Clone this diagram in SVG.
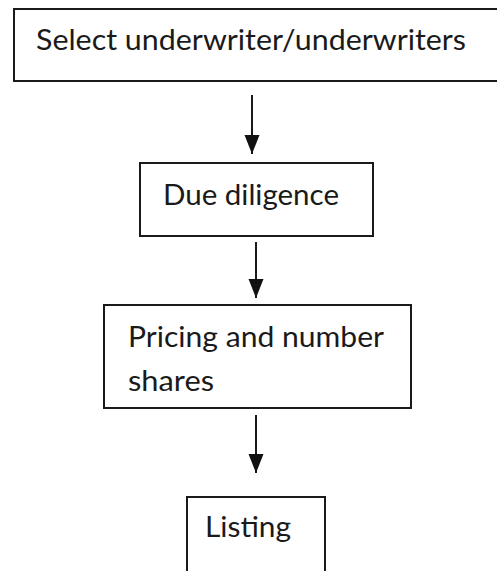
<svg xmlns="http://www.w3.org/2000/svg" width="497" height="571" viewBox="0 0 497 571">
<style>
.box{fill:#fff;stroke:#1a1a1a;stroke-width:2}
.t{font-family:Lato,"Open Sans","Liberation Sans",sans-serif;font-size:28px;fill:#1a1a1a}
.c{stroke:#1a1a1a;stroke-width:2;fill:none}
</style>
<defs>
<marker id="ah" markerWidth="19" markerHeight="16" refX="19" refY="8" orient="auto" markerUnits="userSpaceOnUse" viewBox="0 0 19 16">
<path d="M0,0.5 L19,8 L0,15.5 Z" fill="#111"/>
</marker>
</defs>
<rect width="497" height="571" fill="#fff"/>
<g id="n1">
<path class="box" d="M505,9 H14 V81 H505"/>
<text class="t" x="36" y="50" textLength="430" lengthAdjust="spacingAndGlyphs">Select underwriter/underwriters</text>
</g>
<g id="n2">
<rect class="box" x="140" y="163" width="233" height="73"/>
<text class="t" x="163" y="205" textLength="176" lengthAdjust="spacingAndGlyphs">Due diligence</text>
</g>
<g id="n3">
<rect class="box" x="104" y="305" width="307" height="103"/>
<text class="t" x="128" y="347" textLength="256" lengthAdjust="spacingAndGlyphs">Pricing and number</text>
<text class="t" x="128" y="391" textLength="86" lengthAdjust="spacingAndGlyphs">shares</text>
</g>
<g id="n4">
<path class="box" d="M187,580 V497 H325 V580"/>
<text class="t" x="205" y="537" textLength="86" lengthAdjust="spacingAndGlyphs">Listing</text>
</g>
<g id="connectors">
<line class="c" x1="252" y1="95" x2="252" y2="154" marker-end="url(#ah)"/>
<line class="c" x1="256" y1="242" x2="256" y2="298" marker-end="url(#ah)"/>
<line class="c" x1="256" y1="415" x2="256" y2="473" marker-end="url(#ah)"/>
</g>
</svg>
